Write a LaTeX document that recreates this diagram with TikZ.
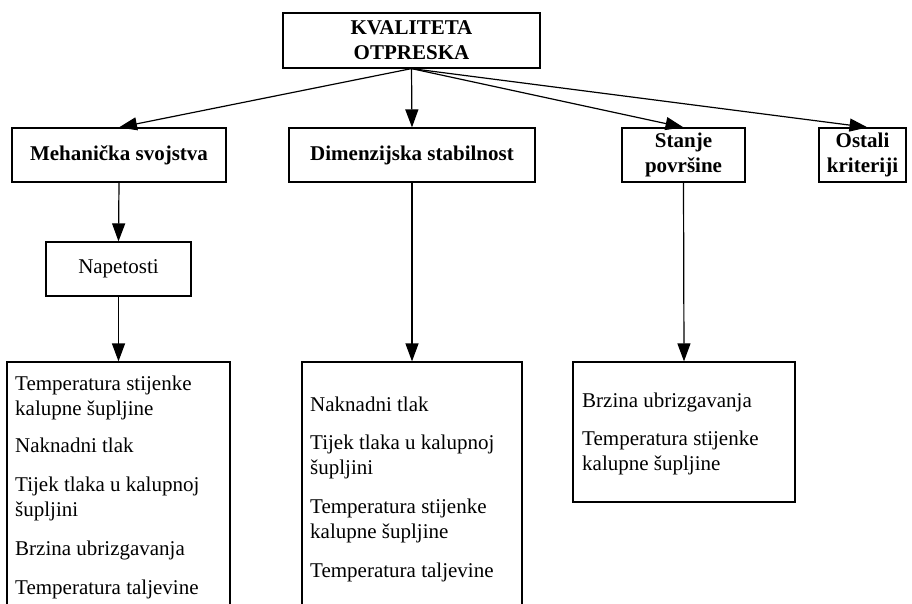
\documentclass[tikz,border=0pt]{standalone}
\usepackage{fontspec}
\setmainfont{Liberation Serif}
\usetikzlibrary{arrows.meta}
\tikzset{
  box/.style={draw, line width=1.2pt, rectangle, inner sep=0pt, align=center,
    font=\bfseries\fontsize{21}{25}\selectfont},
  plainbox/.style={box, font=\fontsize{21}{25}\selectfont},
  item/.style={anchor=base west, inner sep=0pt, font=\fontsize{21}{25}\selectfont},
  conn/.style={line width=1.2pt, -{Triangle[length=18pt,width=13pt]}}
}
\begin{document}
\begin{tikzpicture}[x=1pt,y=-1pt]
\useasboundingbox (0,0) rectangle (912,604);
\clip (0,0) rectangle (912,604);
% header boxes
\node[box, minimum width=257pt, minimum height=55pt] (top) at (411.5,40.5) {KVALITETA\\OTPRESKA};
\node[box, minimum width=214pt, minimum height=54pt] (mech) at (119,155) {Mehanička svojstva};
\node[box, minimum width=246pt, minimum height=54pt] (dim) at (412,155) {Dimenzijska stabilnost};
\node[box, minimum width=123pt, minimum height=54pt] (surf) at (683.5,155) {Stanje\\površine};
\node[box, minimum width=87pt, minimum height=54pt] (other) at (862.5,155) {Ostali\\kriteriji};
\node[plainbox, minimum width=145pt, minimum height=54pt] (nap) at (118.5,269) {Napetosti};
% list boxes
\node[plainbox, minimum width=223pt, minimum height=278pt] (listA) at (118.5,501) {};
\node[plainbox, minimum width=220pt, minimum height=278pt] (listB) at (412,501) {};
\node[plainbox, minimum width=222pt, minimum height=140pt] (listC) at (684,432) {};
% list texts
\node[item] (a1) at (15,390) {Temperatura stijenke};
\node[item] (a2) at (15,415) {kalupne šupljine};
\node[item] (a3) at (15,452) {Naknadni tlak};
\node[item] (a4) at (15,491) {Tijek tlaka u kalupnoj};
\node[item] (a5) at (15,516) {šupljini};
\node[item] (a6) at (15,555) {Brzina ubrizgavanja};
\node[item] (a7) at (15,594) {Temperatura taljevine};
\node[item] (b1) at (310,411) {Naknadni tlak};
\node[item] (b2) at (310,449) {Tijek tlaka u kalupnoj};
\node[item] (b3) at (310,474) {šupljini};
\node[item] (b4) at (310,513) {Temperatura stijenke};
\node[item] (b5) at (310,538) {kalupne šupljine};
\node[item] (b6) at (310,577) {Temperatura taljevine};
\node[item] (c1) at (582,407) {Brzina ubrizgavanja};
\node[item] (c2) at (582,445) {Temperatura stijenke};
\node[item] (c3) at (582,470) {kalupne šupljine};
% connectors
\draw[conn] (top.south) -- (mech.north);
\draw[conn] (top.south) -- (dim.north);
\draw[conn] (top.south) -- (surf.north);
\draw[conn] (top.south) -- ([xshift=5pt]other.north);
\draw[conn] (mech.south) -- (nap.north);
\draw[conn] (nap.south) -- (listA.north);
\draw[conn] (dim.south) -- (listB.north);
\draw[conn] (surf.south) -- (listC.north);
\end{tikzpicture}
\end{document}
